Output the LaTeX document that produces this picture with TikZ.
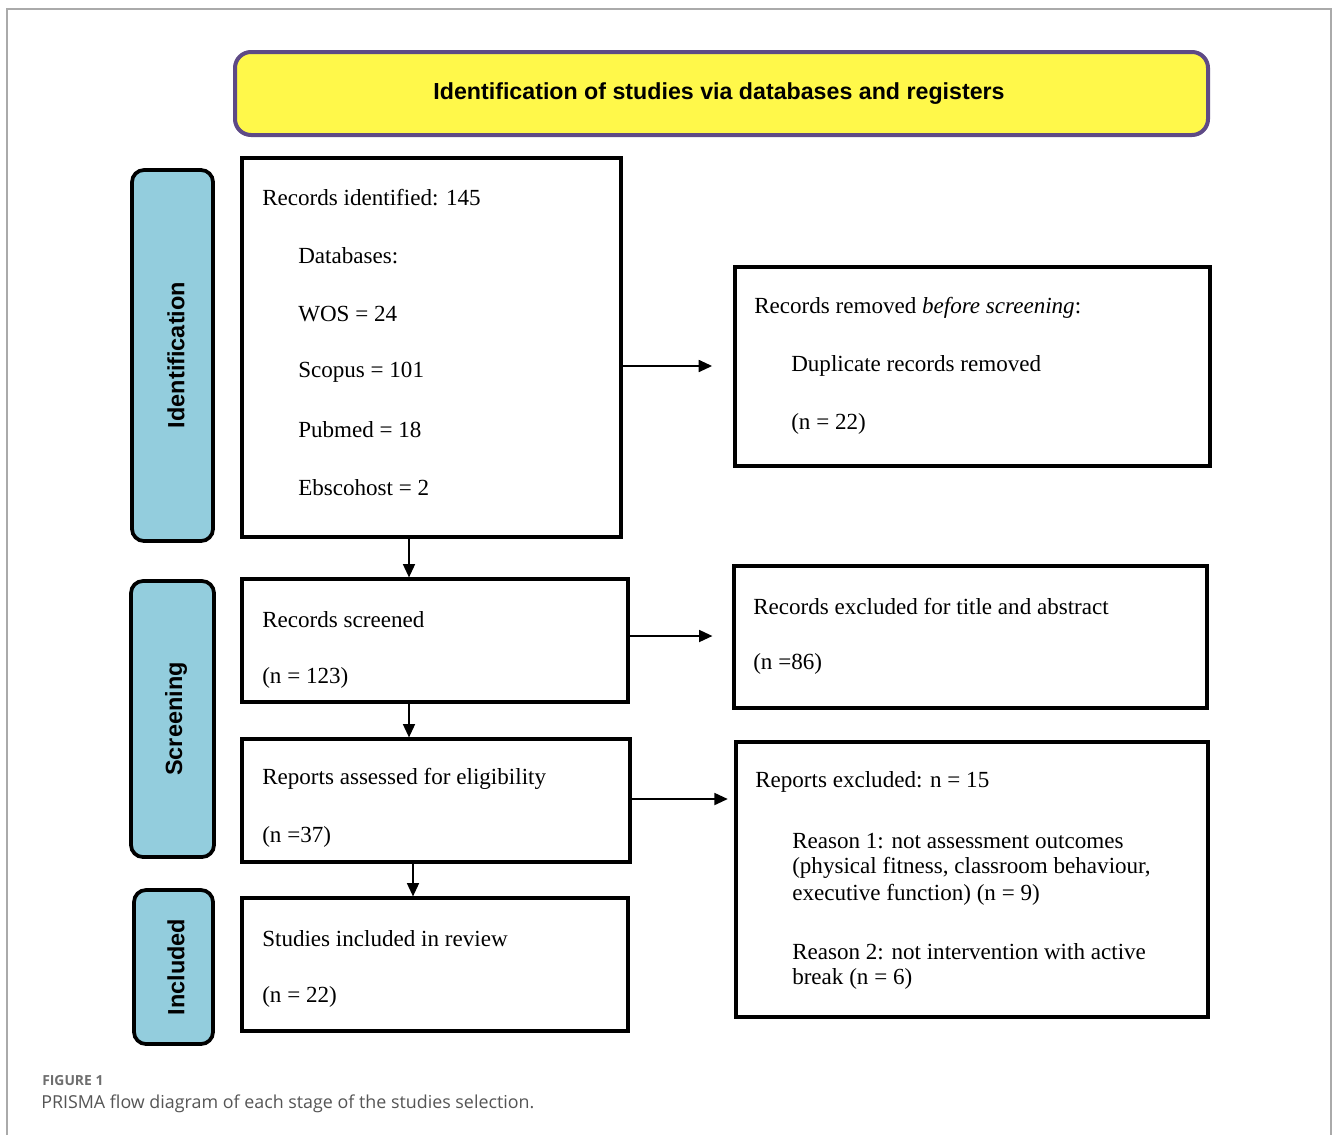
\documentclass[tikz,border=0pt]{standalone}
\usepackage{fontspec}
\setmainfont{Liberation Serif}
\setsansfont{Liberation Sans}
\newfontfamily\capfont{Open Sans}
\usetikzlibrary{fit,arrows.meta}
\definecolor{ttlfill}{HTML}{FFF84A}
\definecolor{ttldraw}{HTML}{5E4A86}
\definecolor{sidefill}{HTML}{93CDDD}
\definecolor{capgray}{HTML}{555555}
\definecolor{framegray}{HTML}{AAAAAA}
\tikzset{
  blk/.style={draw=black, line width=2.4pt, inner sep=0pt, fill=white},
  side/.style={draw=black, line width=2.8pt, rounded corners=9pt, fill=sidefill, inner sep=0pt},
  sidetxt/.style={font=\sffamily\bfseries\fontsize{17.6}{20}\selectfont, rotate=90, inner sep=0pt},
  txt/.style={font=\fontsize{17.3}{20}\selectfont, anchor=west, inner sep=0pt},
  flow/.style={line width=1.3pt, -{Triangle[length=10pt,width=9pt]}},
}
\begin{document}
\begin{tikzpicture}[x=0.75pt,y=-0.75pt]
\useasboundingbox (0,0) rectangle (1333,1135);
\fill[white] (0,0) rectangle (1333,1135);
\draw[framegray, line width=1pt] (7,1135) -- (7,9) -- (1331,9) -- (1331,1135);

% title
\node[draw=ttldraw, fill=ttlfill, line width=3pt, rounded corners=12pt, inner sep=0pt, fit={(235,52)(1208,135)}] (ttl) {};
\node[font=\sffamily\bfseries\fontsize{17.4}{20}\selectfont] (ttltxt) at (719,94) {Identification of studies via databases and registers};

% side labels
\node[side, fit={(132,170)(213,541)}] (sid) {};
\node[sidetxt] (sidt) at (176,355) {Identification};
\node[side, fit={(131,581)(214,857)}] (sscr) {};
\node[sidetxt] (sscrt) at (176,719) {Screening};
\node[side, fit={(134,890)(213,1044)}] (sinc) {};
\node[sidetxt] (sinct) at (176,967) {Included};

% boxes
\node[blk, fit={(242,158)(621,537)}] (b1) {};
\node[blk, fit={(735,267)(1210,466)}] (rm) {};
\node[blk, fit={(242,579)(628,702)}] (scr) {};
\node[blk, fit={(734,566)(1207,708)}] (exc) {};
\node[blk, fit={(242,739)(630,862)}] (ass) {};
\node[blk, fit={(736,742)(1208,1017)}] (rex) {};
\node[blk, fit={(242,898)(628,1031)}] (inc) {};

% texts box 1
\node[txt] (t1) at (262,198) {Records identified: 145};
\node[txt] (t2) at (298,256) {Databases:};
\node[txt] (t3) at (298,314) {WOS = 24};
\node[txt] (t4) at (298,372) {Scopus = 101};
\node[txt] (t5) at (298,430) {Pubmed = 18};
\node[txt] (t6) at (298,488) {Ebscohost = 2};
% removed
\node[txt] (r1) at (754,308) {Records removed \textit{before screening}:};
\node[txt] (r2) at (791,366) {Duplicate records removed};
\node[txt] (r3) at (791,424) {(n = 22)};
% screened
\node[txt] (s1) at (262,620) {Records screened};
\node[txt] (s2) at (262,678) {(n = 123)};
% excluded
\node[txt] (e1) at (753,606) {Records excluded for title and abstract};
\node[txt] (e2) at (753,664) {(n =86)};
% assessed
\node[txt] (a1) at (262,779) {Reports assessed for eligibility};
\node[txt] (a2) at (262,837) {(n =37)};
% reports excluded
\node[txt] (x1) at (755,782) {Reports excluded: n = 15};
\node[txt] (x2) at (792,841) {Reason 1: not assessment outcomes};
\node[txt] (x3) at (792,868) {(physical fitness, classroom behaviour,};
\node[txt] (x4) at (792,895) {executive function) (n = 9)};
\node[txt] (x5) at (792,952) {Reason 2: not intervention with active};
\node[txt] (x6) at (792,979) {break (n = 6)};
% included
\node[txt] (i1) at (262,939) {Studies included in review};
\node[txt] (i2) at (262,997) {(n = 22)};

% arrows
\draw[flow, shorten >=16pt] (b1.east |- 0,366) -- (rm.west |- 0,366);
\draw[flow] (b1.south -| 409,0) -- (scr.north -| 409,0);
\draw[flow, shorten >=15pt] (scr.east |- 0,636) -- (exc.west |- 0,636);
\draw[flow] (scr.south -| 409,0) -- (ass.north -| 409,0);
\draw[flow, shorten >=5pt] (ass.east |- 0,799) -- (rex.west |- 0,799);
\draw[flow] (ass.south -| 413,0) -- (inc.north -| 413,0);

% caption
\node[font=\capfont\bfseries\fontsize{10.4}{12}\selectfont, text=capgray!85, anchor=west, inner sep=0pt] (fig) at (42,1081) {FIGURE 1};
\node[font=\capfont\fontsize{13.4}{15}\selectfont, text=capgray, anchor=west, inner sep=0pt] (cap) at (41,1104) {PRISMA flow diagram of each stage of the studies selection.};
\end{tikzpicture}
\end{document}
